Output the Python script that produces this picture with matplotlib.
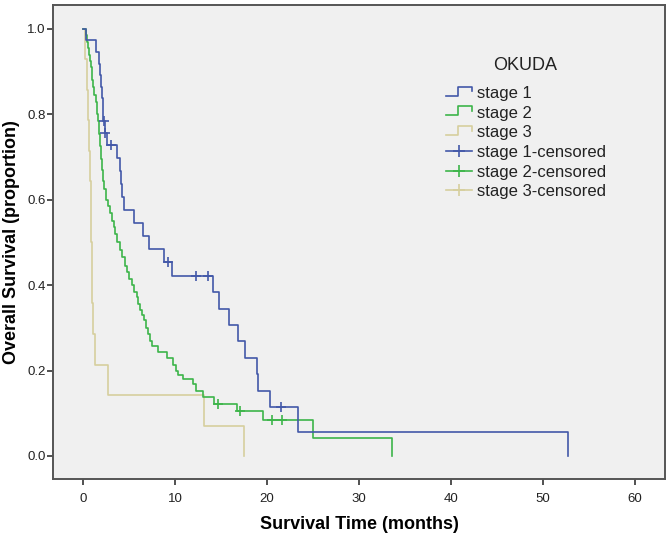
import matplotlib
matplotlib.use("Agg")
import matplotlib.pyplot as plt
from matplotlib.lines import Line2D
from matplotlib.legend_handler import HandlerBase

plt.rcParams['font.family'] = ['Liberation Sans', 'DejaVu Sans']

# ---- data ----
s1_t = [0.0, 0.3, 1.4, 1.7, 1.8, 1.95, 2.05, 2.1, 2.15, 2.4, 2.6, 3.7, 4.0, 4.1, 4.2, 4.45,
        5.5, 6.45, 7.1, 8.8, 9.6, 14.1, 14.8, 15.8, 16.8, 17.6, 18.9, 19.0, 20.3, 23.4, 52.7]
s1_s = [1.0, 0.973, 0.946, 0.919, 0.892, 0.865, 0.838, 0.811, 0.784, 0.756, 0.728, 0.698, 0.668,
        0.637, 0.606, 0.575, 0.545, 0.515, 0.484, 0.454, 0.422, 0.383, 0.345, 0.306, 0.268,
        0.230, 0.192, 0.153, 0.115, 0.057, 0.0]
s1_cens_t = [2.25, 2.4, 3.0, 9.2, 12.3, 13.6, 21.5]
s1_cens_s = [0.784, 0.756, 0.728, 0.454, 0.422, 0.422, 0.115]

s2_t = [0.0, 0.3, 0.45, 0.55, 0.65, 0.72, 0.78, 0.9, 1.0, 1.2, 1.35, 1.45, 1.55, 1.65, 1.8,
        1.93, 2.05, 2.18, 2.3, 2.47, 2.7, 2.9, 3.1, 3.3, 3.45, 3.7, 4.0, 4.2, 4.5, 4.8, 5.0,
        5.27, 5.5, 5.8, 6.0, 6.17, 6.4, 6.6, 6.8, 7.0, 7.2, 7.44, 8.16, 9.07, 9.8, 10.1, 10.3,
        10.8, 11.9, 12.3, 13.05, 14.25, 16.75, 19.5, 25.0, 33.55]
s2_s = [1.0, 0.985, 0.97, 0.955, 0.94, 0.925, 0.91, 0.88, 0.865, 0.845, 0.83, 0.80, 0.785,
        0.755, 0.725, 0.695, 0.67, 0.645, 0.625, 0.60, 0.585, 0.568, 0.55, 0.535, 0.52, 0.50,
        0.482, 0.465, 0.445, 0.43, 0.415, 0.40, 0.385, 0.373, 0.355, 0.342, 0.33, 0.318, 0.30,
        0.285, 0.27, 0.258, 0.244, 0.229, 0.213, 0.20, 0.19, 0.18, 0.168, 0.153, 0.137, 0.122,
        0.106, 0.084, 0.041, 0.0]
s2_cens_t = [14.7, 17.1, 20.5, 21.65]
s2_cens_s = [0.122, 0.106, 0.084, 0.084]

s3_t = [0.0, 0.2, 0.35, 0.5, 0.6, 0.7, 0.8, 0.85, 0.9, 0.95, 1.0, 1.25, 2.7, 13.1, 17.45]
s3_s = [1.0, 0.929, 0.857, 0.786, 0.714, 0.643, 0.571, 0.5, 0.429, 0.357, 0.286, 0.214,
        0.143, 0.071, 0.0]

labels = ["stage 1", "stage 2", "stage 3",
          "stage 1-censored", "stage 2-censored", "stage 3-censored"]
legend_title = "OKUDA"
x_ticks = [0, 10, 20, 30, 40, 50, 60]
y_ticks = [0.0, 0.2, 0.4, 0.6, 0.8, 1.0]

c1, c2, c3 = "#4358a8", "#3db54a", "#d6cf9e"

fig = plt.figure(figsize=(6.72, 5.38), dpi=100)
ax = fig.add_axes([0.0789, 0.1097, 0.9107, 0.881])
ax.set_facecolor("#f0f0f0")

lw = 1.2
ax.plot(s3_t, s3_s, drawstyle="steps-post", color=c3, lw=lw)
ax.plot(s2_t, s2_s, drawstyle="steps-post", color=c2, lw=lw)
ax.plot(s1_t, s1_s, drawstyle="steps-post", color=c1, lw=lw)
ax.plot(s1_cens_t, s1_cens_s, ls="none", marker="+", ms=6.5, mew=1.2, color=c1)
ax.plot(s2_cens_t, s2_cens_s, ls="none", marker="+", ms=6.5, mew=1.2, color=c2)

ax.set_xlim(-3.3, 63.3)
ax.set_ylim(-0.054, 1.056)
ax.set_xticks(x_ticks)
ax.set_yticks(y_ticks)
ax.set_yticklabels([f"{v:.1f}" for v in y_ticks])
ax.tick_params(axis="both", labelsize=9.5, length=4.5, width=1.2, color="#333333",
               labelcolor="#222222")
ax.tick_params(axis="y", pad=1)
ax.tick_params(axis="x", pad=5.5)
for sp in ax.spines.values():
    sp.set_color("#555555")
    sp.set_linewidth(1.4)

ax.set_xlabel("Survival Time (months)", fontsize=13, fontweight="bold", labelpad=8)
ax.set_ylabel("Overall Survival (proportion)", fontsize=13, fontweight="bold", labelpad=5)


class StepHandler(HandlerBase):
    def create_artists(self, legend, orig_handle, xdescent, ydescent, width, height,
                       fontsize, trans):
        x0 = -xdescent
        y0 = -ydescent + height * 0.2
        y1 = -ydescent + height * 0.95
        xs = [x0, x0 + 0.45 * width, x0 + 0.45 * width, x0 + width, x0 + width]
        ys = [y0, y0, y1, y1, y1 - 0.4 * height]
        ln = Line2D(xs, ys, color=orig_handle.get_color(), lw=1.2, transform=trans)
        return [ln]


step_handles = [Line2D([], [], color=c) for c in (c1, c2, c3)]
cens_handles = [Line2D([0, 1], [0, 0], color=c, lw=1.2, marker="+", ms=9, mew=1.2)
                for c in (c1, c2, c3)]
handler_map = {h: StepHandler() for h in step_handles}
ax.text(0.771, 0.873, legend_title, transform=ax.transAxes, ha="center", va="center",
        fontsize=13, color="#222222")
leg = ax.legend(step_handles + cens_handles, labels,
                handler_map=handler_map, loc="upper left",
                bbox_to_anchor=(0.617, 0.861), frameon=False, fontsize=12,
                handlelength=1.6, handletextpad=0.3,
                labelspacing=0.28)
for t in leg.get_texts():
    t.set_color("#222222")

fig.savefig("out.png", dpi=100, facecolor="white")
